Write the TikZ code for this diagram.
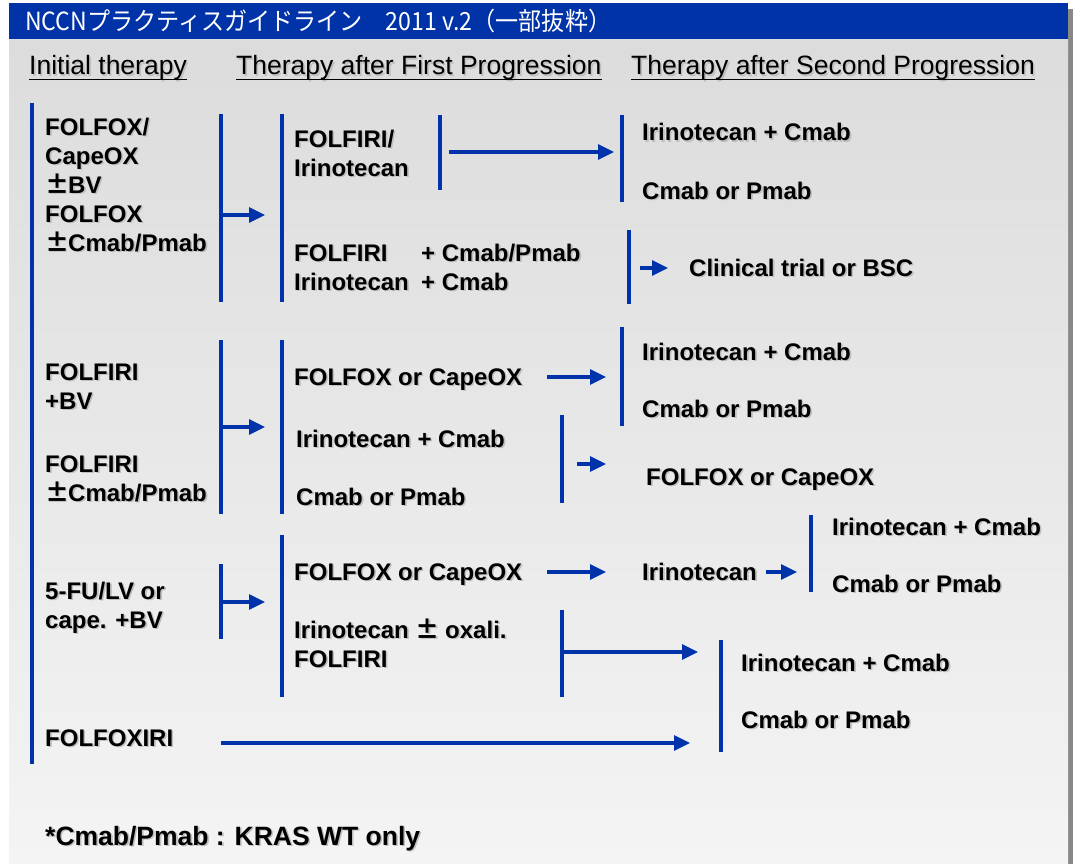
\documentclass[tikz,border=0pt]{standalone}
\usepackage{fontspec}
\setmainfont{Liberation Sans}
\newfontfamily\jpfont{Noto Sans CJK JP}
\usetikzlibrary{arrows.meta}
\definecolor{hdrblue}{RGB}{0,51,168}
\definecolor{barblue}{RGB}{0,51,170}
\definecolor{paneltop}{RGB}{220,220,220}
\definecolor{panelbot}{RGB}{244,244,244}
\definecolor{edgegray}{RGB}{136,136,136}
\newcommand{\sh}[1]{\rlap{\hspace{1.6pt}\raisebox{-1.6pt}{\textcolor{black!25}{#1}}}#1}
\newcommand{\plmi}{\makebox[23pt][l]{\jpfont ±}}
\newcommand{\vbar}[4]{% name, x, top y, bottom y
  \coordinate (#1t) at (#2,#3);
  \coordinate (#1b) at (#2,#4);
  \draw[bar] (#1t) -- (#1b);
}
\newcommand{\harrow}[4]{% name, start x, end x, y
  \coordinate (#1s) at (#2,#4);
  \coordinate (#1e) at (#3,#4);
  \draw[arr] (#1s) -- (#1e);
}

\begin{document}
\begin{tikzpicture}[x=1pt,y=-1pt,
  drug/.style={anchor=base west,inner sep=0pt,align=left,
    font=\fontsize{24}{29}\selectfont\bfseries},
  colhead/.style={anchor=base west,inner sep=0pt,
    font=\fontsize{26.5}{30}\selectfont},
  bar/.style={draw=barblue,line width=3.5pt},
  arr/.style={draw=barblue,line width=3.2pt,-{Triangle[length=16pt,width=15pt]}}]
\useasboundingbox (0,0) rectangle (1076,864);

% Panel and title bar
\fill[edgegray] (1068,9) rectangle (1073,864);
\shade[top color=paneltop,bottom color=panelbot] (9,39) rectangle (1068,864);
\fill[hdrblue] (9,3) rectangle (1068,39);
\node[anchor=west,inner sep=0pt,text=white,font=\jpfont\fontsize{25}{28}\selectfont] (hd) at (25,21)
  {\resizebox{586pt}{\height}{NCCNプラクティスガイドライン　2011 v.2（一部抜粋）}};

% Column heads
\node[colhead] (c1) at (29,75) {\sh{Initial therapy}};
\node[colhead] (c2) at (236,75) {\sh{Therapy after First Progression}};
\node[colhead] (c3) at (631,75) {\sh{Therapy after Second Progression}};
\foreach \c in {c1,c2,c3}
  \draw[line width=1.8pt] ([yshift=-4.5pt]\c.base west) -- ([yshift=-4.5pt]\c.base east);

\vbar{k0}{32}{103}{764}

% Block 1 (multi-line texts sit on their last baseline)
\node[drug] (i1) at (45,251) {\sh{FOLFOX/}\\\sh{CapeOX}\\\sh{\plmi BV}\\\sh{FOLFOX}\\\sh{\plmi Cmab/Pmab}};
\vbar{k1}{221}{114}{302}
\harrow{a1}{221}{265}{215}
\vbar{k2}{282}{114}{302}
\node[drug] (f1) at (294,176) {\sh{FOLFIRI/}\\\sh{Irinotecan}};
\vbar{k3}{440}{115}{190}
\harrow{a2}{449}{614}{152}
\vbar{k4}{622}{115}{202}
\node[drug] (s1a) at (642,141) {\sh{Irinotecan + Cmab}};
\node[drug] (s1b) at (642,199) {\sh{Cmab or Pmab}};
\node[drug] (f2) at (294,290) {\sh{\makebox[127pt][l]{FOLFIRI}+ Cmab/Pmab}\\\sh{\makebox[127pt][l]{Irinotecan}+ Cmab}};
\vbar{k5}{629}{230}{304}
\harrow{a3}{640}{668}{268}
\node[drug] (s2) at (689,276) {\sh{Clinical trial or BSC}};

% Block 2
\node[drug] (i2) at (45,409) {\sh{FOLFIRI}\\\sh{+BV}};
\node[drug] (i3) at (45,501) {\sh{FOLFIRI}\\\sh{\plmi Cmab/Pmab}};
\vbar{k6}{221}{340}{514}
\harrow{a4}{221}{265}{427}
\vbar{k7}{282}{340}{514}
\node[drug] (f3) at (294,385) {\sh{FOLFOX or CapeOX}};
\harrow{a5}{547}{606}{377}
\vbar{k8}{622}{327}{426}
\node[drug] (s3a) at (642,360) {\sh{Irinotecan + Cmab}};
\node[drug] (s3b) at (642,417) {\sh{Cmab or Pmab}};
\node[drug] (f4a) at (296,447) {\sh{Irinotecan + Cmab}};
\node[drug] (f4b) at (296,505) {\sh{Cmab or Pmab}};
\vbar{k9}{562}{415}{503}
\harrow{a6}{577}{606}{464}
\node[drug] (s4) at (646,485) {\sh{FOLFOX or CapeOX}};

% Block 3
\node[drug] (i4) at (45,628) {\sh{5-FU/LV or}\\\sh{cape. +BV}};
\vbar{k10}{221}{564}{639}
\harrow{a7}{221}{265}{602}
\vbar{k11}{282}{535}{697}
\node[drug] (f5) at (294,580) {\sh{FOLFOX or CapeOX}};
\harrow{a8}{547}{606}{572}
\node[drug] (s5) at (642,580) {\sh{Irinotecan}};
\harrow{a9}{766}{797}{572}
\vbar{k12}{811}{515}{592}
\node[drug] (t5a) at (832,535) {\sh{Irinotecan + Cmab}};
\node[drug] (t5b) at (832,592) {\sh{Cmab or Pmab}};
\node[drug] (f6) at (294,667) {\sh{Irinotecan \plmi{} oxali.}\\\sh{FOLFIRI}};
\vbar{k13}{562}{610}{697}
\harrow{a10}{562}{698}{652}
\vbar{k14}{721}{640}{752}
\node[drug] (s6a) at (741,671) {\sh{Irinotecan + Cmab}};
\node[drug] (s6b) at (741,728) {\sh{Cmab or Pmab}};
\node[drug] (i5) at (45,746) {\sh{FOLFOXIRI}};
\harrow{a11}{221}{690}{743}

% Note
\node[drug,font=\fontsize{26.5}{30}\selectfont\bfseries] (nt) at (45,845) {\sh{*Cmab/Pmab : KRAS WT only}};

\end{tikzpicture}
\end{document}
